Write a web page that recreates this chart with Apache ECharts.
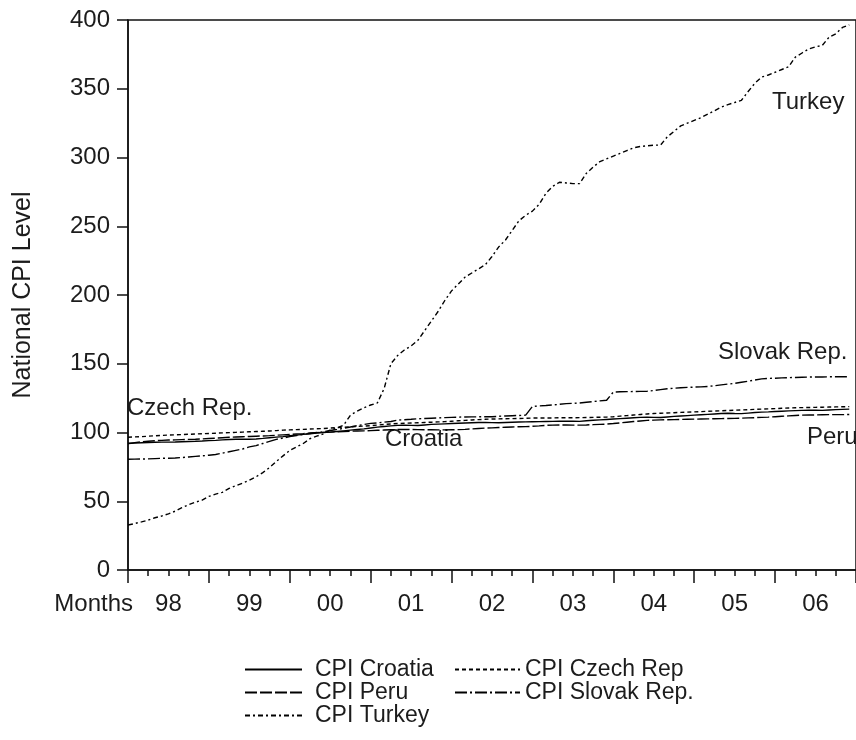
<!DOCTYPE html>
<html>
<head>
<meta charset="utf-8">
<title>National CPI Level</title>
<script src="https://cdn.jsdelivr.net/npm/echarts@6/dist/echarts.min.js"></script>
<style>
  html, body { margin: 0; padding: 0; background: #fff; }
  #chart { width: 856px; height: 740px; }
</style>
</head>
<body>
<div id="chart"></div>
<script>
// Monthly CPI levels, Jan 1998 – Dec 2006
const START_YEAR = 1998;
const YEARS = 9;

const cpiCroatia = [
  92.0, 92.3, 92.5, 92.7, 92.9, 93.0, 93.0, 93.1, 93.3, 93.5, 93.6, 93.8,
  94.1, 94.3, 94.6, 94.9, 95.1, 95.2, 95.1, 95.3, 95.7, 96.2, 96.6, 97.0,
  97.6, 98.1, 98.6, 99.1, 99.6, 100.0, 100.3, 100.7, 101.2, 101.7, 102.2, 102.6,
  103.3, 103.9, 104.4, 104.8, 105.2, 105.4, 105.2, 105.1, 105.5, 105.9, 106.1, 106.3,
  106.5, 106.7, 106.9, 107.1, 107.3, 107.4, 107.2, 107.1, 107.3, 107.5, 107.6, 107.7,
  107.8, 107.9, 108.0, 108.1, 108.2, 108.3, 108.2, 108.1, 108.5, 108.9, 109.2, 109.5,
  109.8, 110.1, 110.4, 110.7, 111.0, 111.2, 111.0, 110.9, 111.3, 111.7, 112.0, 112.3,
  112.6, 112.9, 113.2, 113.5, 113.8, 114.0, 113.8, 113.7, 114.1, 114.5, 114.8, 115.0,
  115.3, 115.5, 115.7, 115.9, 116.1, 116.3, 116.2, 116.1, 116.4, 116.6, 116.8, 117.0
];

const cpiCzech = [
  96.5, 96.8, 97.0, 97.3, 97.6, 97.9, 98.1, 98.3, 98.5, 98.7, 98.9, 99.1,
  99.3, 99.5, 99.7, 99.9, 100.1, 100.3, 100.5, 100.7, 100.9, 101.1, 101.4, 101.7,
  101.9, 102.1, 102.3, 102.5, 102.7, 102.9, 103.2, 103.5, 103.8, 104.1, 104.4, 104.7,
  105.0, 105.4, 105.8, 106.2, 106.5, 106.7, 106.9, 107.1, 107.3, 107.5, 107.7, 107.9,
  108.2, 108.5, 108.8, 109.1, 109.4, 109.6, 109.8, 109.9, 110.0, 110.1, 110.2, 110.3,
  110.5, 110.6, 110.6, 110.6, 110.7, 110.7, 110.7, 110.8, 110.9, 111.0, 111.1, 111.2,
  111.5, 111.9, 112.3, 112.7, 113.1, 113.5, 113.8, 114.0, 114.2, 114.4, 114.6, 114.8,
  115.0, 115.2, 115.4, 115.6, 115.8, 116.0, 116.2, 116.4, 116.6, 116.8, 117.0, 117.2,
  117.4, 117.6, 117.8, 118.0, 118.1, 118.2, 118.3, 118.4, 118.5, 118.6, 118.7, 118.8
];

const cpiPeru = [
  92.0, 92.6, 93.2, 93.6, 94.0, 94.3, 94.5, 94.6, 94.8, 95.0, 95.1, 95.3,
  95.6, 95.9, 96.2, 96.5, 96.7, 96.9, 97.1, 97.3, 97.5, 97.7, 98.0, 98.3,
  98.6, 98.9, 99.2, 99.6, 99.9, 100.1, 100.3, 100.5, 100.7, 100.9, 101.1, 101.2,
  101.4, 101.6, 101.8, 102.0, 102.2, 102.3, 102.2, 102.1, 102.0, 102.0, 101.9, 101.9,
  102.0, 102.1, 102.3, 102.6, 102.9, 103.2, 103.4, 103.6, 103.8, 104.0, 104.2, 104.3,
  104.5, 104.8, 105.2, 105.4, 105.5, 105.5, 105.4, 105.4, 105.5, 105.7, 105.9, 106.1,
  106.5, 107.0, 107.5, 108.0, 108.4, 108.8, 109.0, 109.2, 109.3, 109.4, 109.5, 109.6,
  109.7, 109.8, 109.9, 110.0, 110.1, 110.2, 110.3, 110.4, 110.6, 110.8, 111.0, 111.2,
  111.5, 111.8, 112.1, 112.4, 112.6, 112.7, 112.8, 112.9, 113.0, 113.0, 113.0, 113.1
];

const cpiSlovak = [
  80.5, 80.6, 80.7, 80.8, 81.0, 81.2, 81.3, 81.5, 81.8, 82.2, 82.6, 83.0,
  83.5, 84.0, 85.0, 86.0, 87.0, 88.0, 89.5, 90.5, 92.0, 93.5, 95.0, 96.0,
  97.0, 97.8, 98.6, 99.3, 100.0, 100.5, 101.5, 102.2, 103.0, 104.0, 105.0, 105.8,
  106.6, 107.0, 107.5, 108.0, 109.0, 109.3, 109.6, 110.0, 110.2, 110.4, 110.6, 110.8,
  111.0, 111.2, 111.3, 111.4, 111.4, 111.5, 111.5, 111.8, 112.0, 112.2, 112.4, 112.6,
  119.0, 119.3, 119.6, 120.0, 120.5, 121.0, 121.2, 121.5, 122.0, 122.5, 123.0, 123.5,
  129.4, 129.6, 129.7, 129.8, 129.9, 130.0, 130.5, 131.2, 131.8, 132.2, 132.5, 132.8,
  133.0, 133.2, 133.5, 134.0, 134.6, 135.2, 135.7, 136.5, 137.3, 138.2, 139.0, 139.3,
  139.5, 139.7, 139.9, 140.0, 140.2, 140.3, 140.4, 140.4, 140.5, 140.5, 140.5, 140.6
];

const cpiTurkey = [
  32.7, 33.8, 35.0, 36.3, 38.0, 39.3, 40.8, 42.8, 45.3, 47.5, 49.3, 50.8,
  53.5, 55.2, 56.5, 59.3, 61.3, 63.2, 65.3, 67.8, 70.8, 74.5, 79.0, 83.0,
  87.0, 89.5, 92.0, 95.5, 97.3, 99.0, 101.7, 103.3, 105.4, 112.6, 115.5, 118.0,
  120.0, 121.5, 132.0, 150.0, 156.0, 160.0, 163.0, 167.0, 174.0, 181.0, 188.0, 196.0,
  203.0, 208.0, 213.0, 216.0, 219.0, 222.0, 228.0, 235.0, 240.0, 247.0, 254.0, 258.0,
  261.0, 266.0, 274.0, 279.0, 282.0, 281.5, 281.0, 281.0, 288.5, 293.0, 297.0, 299.0,
  301.0, 303.0, 305.0, 307.0, 308.0, 308.5, 309.0, 309.0, 315.0, 319.0, 323.0, 325.0,
  327.0, 329.0, 331.5, 334.0, 336.6, 338.5, 340.0, 341.6, 348.0, 354.0, 358.5, 360.0,
  362.0, 364.0, 366.0, 373.0, 376.0, 379.0, 380.5, 381.5, 387.5, 390.0, 394.6, 396.5
];

const yTicks = { min: 0, max: 400, step: 50 };

// Month categories "YYYY-MM", one extra closing month so the axis spans full years
const months = [];
for (let y = 0; y < YEARS; y++) {
  for (let m = 1; m <= 12; m++) {
    months.push((START_YEAR + y) + '-' + String(m).padStart(2, '0'));
  }
}
months.push((START_YEAR + YEARS) + '-01');

const FONT = "'Liberation Sans', Arial, sans-serif";
const INK = '#1c1c1c';
const FS = 24;

const seriesDefs = [
  { name: 'CPI Croatia',     data: cpiCroatia, dash: 'solid' },
  { name: 'CPI Czech Rep',   data: cpiCzech,   dash: [4, 3] },
  { name: 'CPI Peru',        data: cpiPeru,    dash: [12, 3] },
  { name: 'CPI Slovak Rep.', data: cpiSlovak,  dash: [12, 3, 2, 3] },
  { name: 'CPI Turkey',      data: cpiTurkey,  dash: [5, 3, 2, 3] }
];

const chart = echarts.init(document.getElementById('chart'), null, { renderer: 'canvas' });

function legendText(pad) {
  return { fontFamily: FONT, fontSize: 23, color: INK, lineHeight: 22, padding: [0, 0, 0, pad] };
}

function note(text, x, y) {
  return { type: 'text', x: x, y: y,
           style: { text: text, font: FS + 'px ' + FONT, fill: INK, textVerticalAlign: 'middle' } };
}

chart.setOption({
  backgroundColor: '#fff',
  animation: false,
  textStyle: { fontFamily: FONT, color: INK },
  grid: {
    left: 128, top: 20, width: 736, height: 550,
    show: true, borderColor: '#111', borderWidth: 1.5, backgroundColor: 'transparent'
  },
  xAxis: [
    {
      type: 'category', data: months, boundaryGap: false, position: 'bottom',
      axisLine: { show: true, lineStyle: { color: '#111', width: 1.5 } },
      axisTick: { show: true, length: 13, lineStyle: { color: '#111', width: 1.5 },
                  interval: (i) => i % 12 === 0 },
      axisLabel: { show: true, interval: (i) => i % 12 === 6, margin: 22,
                   fontFamily: FONT, fontSize: FS, color: INK,
                   formatter: (v) => v.slice(2, 4) },
      splitLine: { show: false }
    },
    {
      type: 'category', data: months, boundaryGap: false, position: 'bottom',
      axisLine: { show: false },
      axisTick: { show: true, length: 6, lineStyle: { color: '#111', width: 1.5 },
                  interval: (i) => i % 3 === 0 && i % 12 !== 0 },
      axisLabel: { show: false },
      splitLine: { show: false }
    }
  ],
  yAxis: {
    type: 'value', min: yTicks.min, max: yTicks.max, interval: yTicks.step,
    name: 'National CPI Level', nameLocation: 'middle', nameGap: 92,
    nameTextStyle: { fontFamily: FONT, fontSize: 25, color: INK },
    axisLine: { show: true, lineStyle: { color: '#111', width: 1.5 } },
    axisTick: { show: true, length: 11, lineStyle: { color: '#111', width: 1.5 } },
    axisLabel: { margin: 18, fontFamily: FONT, fontSize: FS, color: INK },
    splitLine: { show: false }
  },
  legend: [
    {
      orient: 'vertical', left: 239, top: 653, itemWidth: 57, itemHeight: 22, itemGap: 0,
      data: ['CPI Croatia', 'CPI Peru', 'CPI Turkey'],
      itemStyle: { opacity: 0 },
      textStyle: legendText(8), selectedMode: false
    },
    {
      orient: 'vertical', left: 449, top: 653, itemWidth: 65, itemHeight: 22, itemGap: 0,
      data: ['CPI Czech Rep', 'CPI Slovak Rep.'],
      itemStyle: { opacity: 0 },
      textStyle: legendText(0), selectedMode: false
    }
  ],
  series: seriesDefs.map((s) => ({
    name: s.name, type: 'line', data: s.data,
    xAxisIndex: 0, yAxisIndex: 0,
    symbol: 'none', showSymbol: false, smooth: false,
    lineStyle: { color: '#000', width: 1.4, type: s.dash },
    itemStyle: { color: '#000' },
    emphasis: { disabled: true }
  })),
  graphic: [
    { type: 'text', x: 133, y: 604,
      style: { text: 'Months', font: FS + 'px ' + FONT, fill: INK, textAlign: 'right', textVerticalAlign: 'middle' } },
    note('Turkey', 772, 102),
    note('Slovak Rep.', 718, 352),
    note('Czech Rep.', 127, 408),
    note('Croatia', 385, 439),
    note('Peru', 807, 437)
  ]
});
</script>
</body>
</html>
